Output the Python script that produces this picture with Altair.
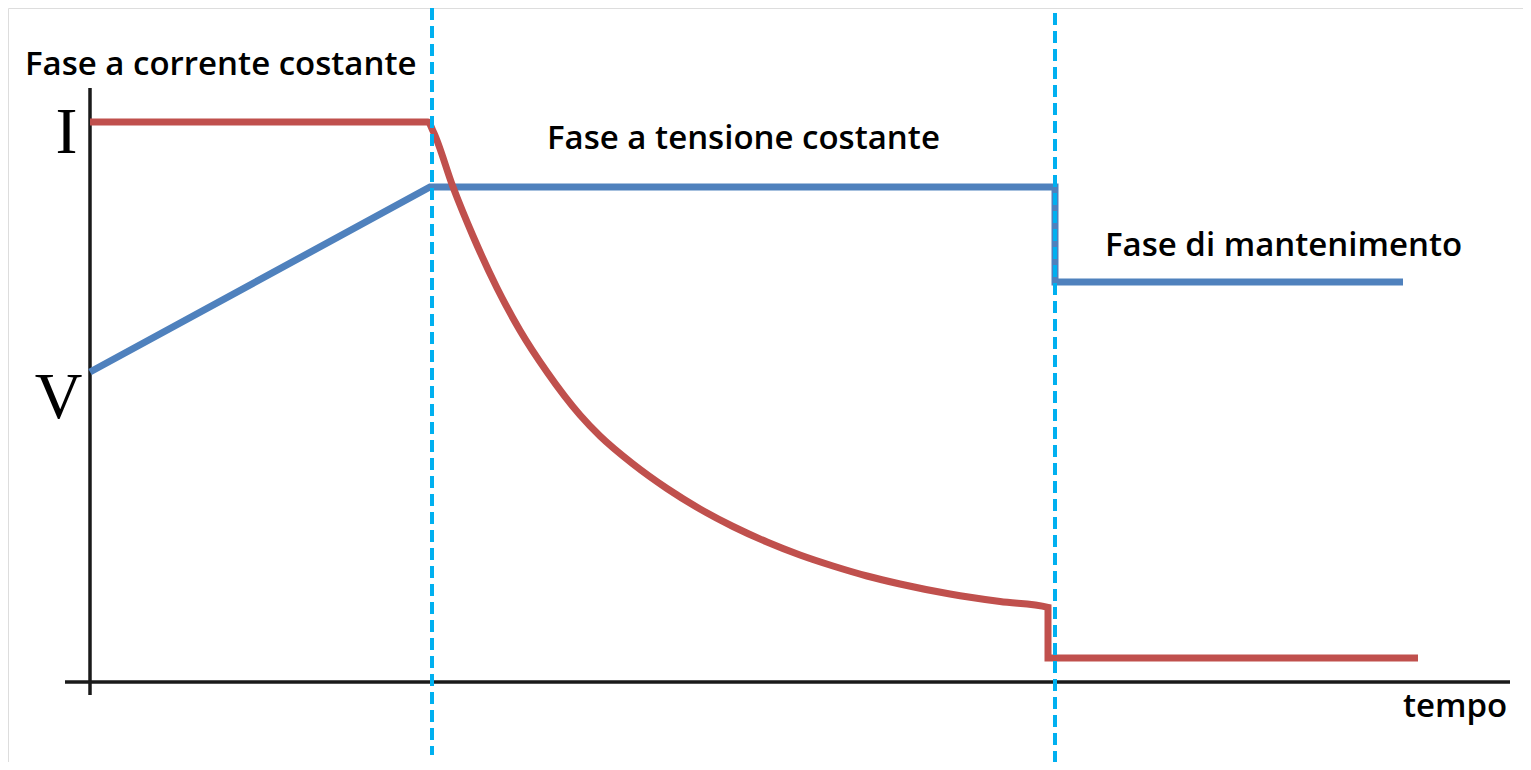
import altair as alt
import pandas as pd

# time (x) and level (y) values
i_t = [0.0, 33.8, 34.3, 36.3, 38.3, 40.7, 43.0, 45.7, 49.0, 51.0, 54.3, 57.7, 61.0, 64.3, 67.7,
       71.0, 74.3, 77.7, 81.0, 86.0, 91.0, 95.8, 95.8, 132.8]
i_v = [56.0, 56.0, 55.1, 49.5, 44.6, 39.4, 35.15, 31.0, 26.7, 24.6, 21.8, 19.35, 17.3, 15.55, 14.0,
       12.7, 11.6, 10.6, 9.8, 8.8, 8.05, 7.47, 2.4, 2.4]
v_t = [0.0, 34.0, 96.5, 96.5, 131.3]
v_v = [31.0, 49.5, 49.5, 40.0, 40.0]

phase_t = [34.2, 96.5]
phase_top = [67.4, 66.9]
phase_bottom = [-7.3, -8.0]

labels = ["Fase a corrente costante", "Fase a tensione costante", "Fase di mantenimento", "tempo"]
label_t = [-6.5, 45.7, 101.5, 131.3]
label_v = [60.7, 53.3, 42.6, -3.5]

axis_labels = ["I", "V"]
axis_label_t = [-2.35, -3.15]
axis_label_v = [52.9, 26.4]

X_DOM = [-8.2, 143.3]
Y_DOM = [-8.0, 67.4]

xs = alt.Scale(domain=X_DOM, nice=False, zero=False)
ys = alt.Scale(domain=Y_DOM, nice=False, zero=False)

series = pd.DataFrame(
    [{"t": t, "v": v, "s": "I", "o": k} for k, (t, v) in enumerate(zip(i_t, i_v))]
    + [{"t": t, "v": v, "s": "V", "o": k} for k, (t, v) in enumerate(zip(v_t, v_v))]
)
color = alt.Color("s:N", scale=alt.Scale(domain=["I", "V"], range=["#C0504D", "#4F81BD"]), legend=None)

axes_df = pd.DataFrame([
    {"t": 0.0, "t2": 0.0, "v": 59.4, "v2": -1.3},
    {"t": -2.5, "t2": 142.0, "v": 0.0, "v2": 0.0},
])
axes_layer = alt.Chart(axes_df).mark_rule(color="#1a1a1a", strokeWidth=3.5).encode(
    x=alt.X("t:Q", scale=xs, axis=None), x2="t2:Q",
    y=alt.Y("v:Q", scale=ys, axis=None), y2="v2:Q",
)

v_layer = alt.Chart(series[series.s == "V"]).mark_line(strokeWidth=7, strokeJoin="miter").encode(
    x=alt.X("t:Q", scale=xs, axis=None), y=alt.Y("v:Q", scale=ys, axis=None), order="o:Q", color=color
)
i_layer = alt.Chart(series[series.s == "I"]).mark_line(strokeWidth=7, strokeJoin="miter", interpolate="monotone").encode(
    x=alt.X("t:Q", scale=xs, axis=None), y=alt.Y("v:Q", scale=ys, axis=None), order="o:Q", color=color
)

phase_df = pd.DataFrame({"t": phase_t, "top": phase_top, "bottom": phase_bottom})
phase_layer = alt.Chart(phase_df).mark_rule(color="#00B0F0", strokeWidth=4, strokeDash=[12, 6]).encode(
    x=alt.X("t:Q", scale=xs, axis=None), y=alt.Y("top:Q", scale=ys, axis=None), y2="bottom:Q"
)

text_df = pd.DataFrame({"t": label_t, "v": label_v, "txt": labels})
text_layer = alt.Chart(text_df).mark_text(
    align="left", baseline="alphabetic", font="Open Sans", fontSize=33, fontWeight=600, color="black"
).encode(x=alt.X("t:Q", scale=xs, axis=None), y=alt.Y("v:Q", scale=ys, axis=None), text="txt:N")

ax_text_df = pd.DataFrame({"t": axis_label_t, "v": axis_label_v, "txt": axis_labels})
ax_text_layer = alt.Chart(ax_text_df).mark_text(
    align="center", baseline="alphabetic", font="Liberation Serif", fontSize=66, color="black"
).encode(x=alt.X("t:Q", scale=xs, axis=None), y=alt.Y("v:Q", scale=ys, axis=None), text="txt:N")

chart = alt.layer(
    axes_layer, v_layer, i_layer, phase_layer, text_layer, ax_text_layer
).properties(
    width=1515, height=754, padding=0, autosize=alt.AutoSizeParams(type="none")
).configure_view(stroke=None).configure(background="white")

chart.save("out.html", embed_options={"renderer": "svg", "actions": False})
